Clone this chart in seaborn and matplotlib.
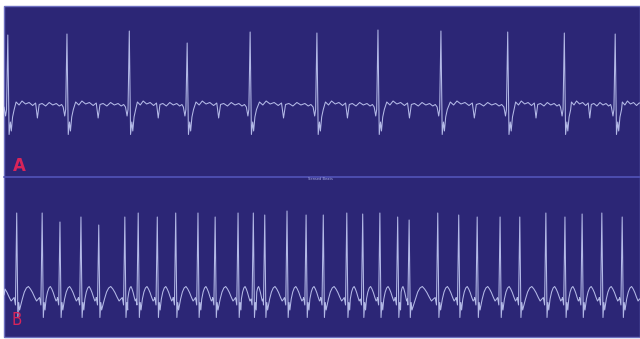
import numpy as np
import pandas as pd
import matplotlib
matplotlib.use("Agg")
import matplotlib.pyplot as plt
import seaborn as sns
from matplotlib.patches import Rectangle
from matplotlib.lines import Line2D

# ---- strip A: sinus rhythm (R-peak times in s, R amplitudes in mV) ----
beats_a_t = [0.06, 0.99, 1.97, 2.88, 3.87, 4.92, 5.88, 6.87, 7.92, 8.81, 9.61]
beats_a_r = [1.44, 1.46, 1.52, 1.28, 1.50, 1.48, 1.54, 1.52, 1.50, 1.48, 1.46]

# ---- strip B: tachycardia ----
beats_b_t = [0.20, 0.60, 0.88, 1.21, 1.49, 1.90, 2.11, 2.41, 2.70, 3.05, 3.32,
             3.68, 3.92, 4.10, 4.45, 4.75, 5.02, 5.39, 5.64, 5.91, 6.19, 6.37,
             6.82, 7.15, 7.44, 7.80, 8.11, 8.52, 8.82, 9.09, 9.40, 9.72]
beats_b_r = [1.64, 1.64, 1.46, 1.56, 1.40, 1.56, 1.64, 1.56, 1.64, 1.64, 1.56,
             1.64, 1.64, 1.60, 1.68, 1.60, 1.60, 1.64, 1.62, 1.64, 1.56, 1.50,
             1.64, 1.60, 1.56, 1.56, 1.56, 1.64, 1.56, 1.62, 1.64, 1.56]

# QRS complex: offsets from the R peak (s) and voltages (mV, None = R peak)
qrs_a_dt = [-0.06, -0.035, -0.02, 0.0, 0.02, 0.04, 0.055, 0.075, 0.10]
qrs_a_mv = [0.00, -0.18, -0.05, None, -0.55, -0.30, -0.48, -0.20, -0.05]
# baseline between beats: fraction of the RR interval and voltage (mV)
seg_a_fr = [0.14, 0.19, 0.24, 0.30, 0.36, 0.42, 0.47, 0.50, 0.53, 0.58,
            0.64, 0.70, 0.76, 0.82, 0.87, 0.91]
seg_a_mv = [0.10, 0.04, 0.12, 0.06, 0.09, 0.03, 0.08, -0.22, 0.05, 0.07,
            0.02, 0.09, 0.04, 0.07, 0.02, 0.05]

qrs_b_dt = [-0.04, -0.02, 0.0, 0.018, 0.032, 0.045]
qrs_b_mv = [-0.05, -0.20, None, -0.45, -0.15, -0.30]
seg_b_fr = [0.22, 0.30, 0.38, 0.46, 0.54, 0.62, 0.70, 0.78, 0.85]
seg_b_mv = [-0.08, 0.06, 0.14, 0.17, 0.12, 0.05, -0.04, -0.12, -0.08]

T_END = 10.0


def build_trace(times, amps, qdt, qmv, sfr, smv):
    t_out, v_out = [0.0], [0.0]
    rr0 = times[1] - times[0]
    # tail of the beat preceding the strip
    for f, v in zip(sfr, smv):
        tt = times[0] - rr0 + f * rr0
        if 0.0 < tt < times[0] + qdt[0]:
            t_out.append(tt)
            v_out.append(v)
    for i, (tb, r) in enumerate(zip(times, amps)):
        for d, v in zip(qdt, qmv):
            tt = tb + d
            if tt > t_out[-1]:
                t_out.append(tt)
                v_out.append(r if v is None else v)
        rr = times[i + 1] - tb if i + 1 < len(times) else times[i] - times[i - 1]
        for f, v in zip(sfr, smv):
            tt = tb + f * rr
            if t_out[-1] < tt < T_END:
                t_out.append(tt)
                v_out.append(v)
    t_out.append(T_END)
    v_out.append(v_out[-1])
    return pd.DataFrame({"time": t_out, "mv": v_out})


trace_a = build_trace(beats_a_t, beats_a_r, qrs_a_dt, qrs_a_mv, seg_a_fr, seg_a_mv)
trace_b = build_trace(beats_b_t, beats_b_r, qrs_b_dt, qrs_b_mv, seg_b_fr, seg_b_mv)

sns.set_theme(style="white")

W, H = 640, 339
fig = plt.figure(figsize=(W / 100, H / 100), dpi=100)
fig.patch.set_facecolor("white")

bg = Rectangle((4 / W, 1 - 337 / H), 636 / W, 331 / H, transform=fig.transFigure,
               facecolor="#2c2676", edgecolor="#6d6fc0", lw=1.0, zorder=-5)
fig.add_artist(bg)

ax_a = fig.add_axes([4 / W, 1 - 176 / H, 636 / W, 169 / H])
ax_b = fig.add_axes([4 / W, 1 - 336 / H, 636 / W, 159 / H])

trace_color = "#c3caf4"
for ax, df, ylim in ((ax_a, trace_a, (-1.38, 2.0)), (ax_b, trace_b, (-0.82, 2.36))):
    ax.set_facecolor("none")
    sns.lineplot(data=df, x="time", y="mv", ax=ax, sort=False, estimator=None,
                 color=trace_color, lw=0.75, alpha=0.9)
    ax.set_xlim(0, T_END)
    ax.set_ylim(*ylim)
    ax.axis("off")

# separator between the two strips
fig.add_artist(Line2D([4 / W, 1.0], [1 - 176.5 / H] * 2, transform=fig.transFigure,
                      color="#4f50b4", lw=1.3))
fig.text(320 / W, 1 - 179 / H, "Sensed Beats", fontsize=2.6, color="#a9aee6",
         ha="center", va="center")

label_color = "#d8245a"
fig.text(19 / W, 1 - 166 / H, "A", fontsize=12, color=label_color,
         ha="center", va="center", fontweight="bold")
fig.text(17 / W, 1 - 320 / H, "B", fontsize=12, color=label_color,
         ha="center", va="center", fontstretch="condensed")

fig.savefig("out.png", dpi=100, facecolor="white")
